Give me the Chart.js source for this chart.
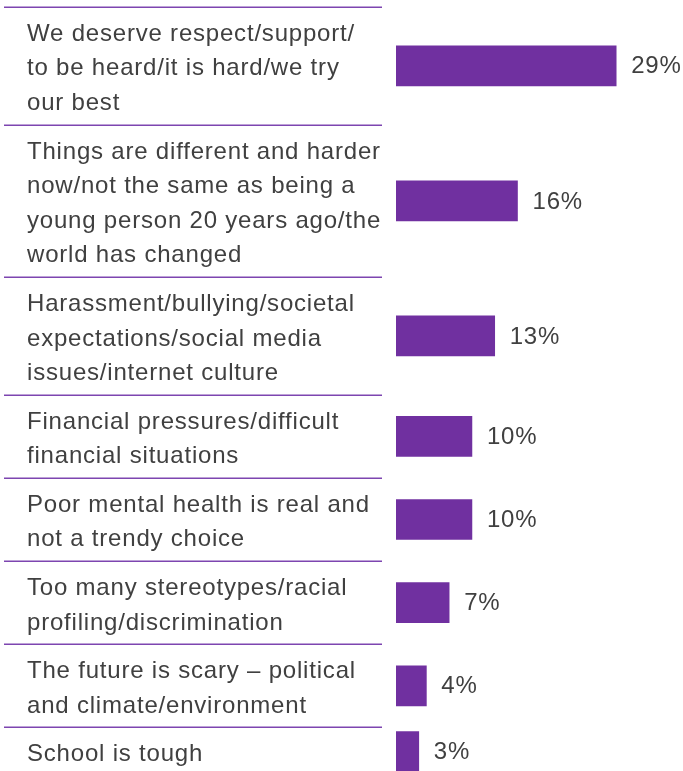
<!DOCTYPE html>
<html>
<head>
<meta charset="utf-8">
<script src="https://cdn.jsdelivr.net/npm/chart.js@4/dist/chart.umd.min.js"></script>
<style>
  html, body { margin: 0; padding: 0; background: #fff; overflow: hidden; }
  #wrap { width: 683px; height: 776px; position: relative; }
</style>
</head>
<body>
<div id="wrap"><canvas id="myChart"></canvas></div>
<script>
// reasons given, one label line per array entry
var reasons = [
    ['We deserve respect/support/', 'to be heard/it is hard/we try', 'our best'],
    ['Things are different and harder', 'now/not the same as being a', 'young person 20 years ago/the', 'world has changed'],
    ['Harassment/bullying/societal', 'expectations/social media', 'issues/internet culture'],
    ['Financial pressures/difficult', 'financial situations'],
    ['Poor mental health is real and', 'not a trendy choice'],
    ['Too many stereotypes/racial', 'profiling/discrimination'],
    ['The future is scary \u2013 political', 'and climate/environment'],
    ['School is tough']
];
var percentages = [29, 16, 13, 10, 10, 7, 4, 3];

var purple = '#7030a0';
var textColor = '#404040';
var fontFamily = "'Liberation Sans', Arial, Helvetica, sans-serif";
var fontSize = 24;
var spacing = '0.8px';
var lineStep = 34.5;      // px per text line
var rowPad = 14 / 34.5;   // extra space per row, in line units

// each row is as tall as its label, so the y axis runs in "lines"
var rowStart = [], rowMid = [], pos = 0;
reasons.forEach(function (r) {
    var h = r.length + rowPad;
    rowStart.push(pos);
    rowMid.push(pos + h / 2);
    pos += h;
});
var rowEnd = pos;

var points = percentages.map(function (v, i) { return { x: v, y: rowMid[i] }; });

var letterSpacing = {
    id: 'letterSpacing',
    beforeInit: function (chart) { chart.ctx.letterSpacing = spacing; },
    beforeDraw: function (chart) { chart.ctx.letterSpacing = spacing; }
};

// purple rules between the rows, under the labels only
var dividers = {
    id: 'dividers',
    beforeDatasetsDraw: function (chart) {
        var ctx = chart.ctx, y = chart.scales.y;
        ctx.save();
        ctx.strokeStyle = '#7d45b0';
        ctx.lineWidth = 1.5;
        rowStart.forEach(function (v) {
            var py = Math.round(y.getPixelForValue(v)) + 0.25;
            ctx.beginPath();
            ctx.moveTo(4, py);
            ctx.lineTo(chart.chartArea.left - 14, py);
            ctx.stroke();
        });
        ctx.restore();
    }
};

var valueLabels = {
    id: 'valueLabels',
    afterDatasetsDraw: function (chart) {
        var ctx = chart.ctx;
        ctx.save();
        ctx.font = fontSize + 'px ' + fontFamily;
        ctx.fillStyle = textColor;
        ctx.textAlign = 'left';
        ctx.textBaseline = 'middle';
        chart.getDatasetMeta(0).data.forEach(function (bar, i) {
            ctx.fillText(percentages[i] + '%', bar.x + 15, bar.y + 1);
        });
        ctx.restore();
    }
};

var ctx = document.getElementById('myChart').getContext('2d');
var myChart = new Chart(ctx, {
    type: 'bar',
    data: {
        datasets: [{
            data: points,
            backgroundColor: purple,
            borderWidth: 0,
            barThickness: 40
        }]
    },
    options: {
        indexAxis: 'y',
        responsive: true,
        maintainAspectRatio: false,
        animation: false,
        layout: { autoPadding: false, padding: { top: 7, left: 27, right: 0, bottom: 0 } },
        plugins: {
            legend: { display: false },
            tooltip: { enabled: false }
        },
        scales: {
            x: {
                type: 'linear',
                display: false,
                min: 0,
                max: 37.8
            },
            y: {
                type: 'linear',
                reverse: true,
                offset: false,
                min: 0,
                max: rowEnd,
                grid: { display: false },
                border: { display: false },
                afterBuildTicks: function (scale) {
                    scale.ticks = rowMid.map(function (v) { return { value: v }; });
                },
                afterFit: function (scale) {
                    scale.width = 396 - 27;
                    scale.paddingTop = 0;
                    scale.paddingBottom = 0;
                },
                ticks: {
                    autoSkip: false,
                    crossAlign: 'far',
                    labelOffset: 3,
                    color: textColor,
                    font: { family: fontFamily, size: fontSize, lineHeight: lineStep / fontSize },
                    callback: function (value, index) { return reasons[index]; }
                }
            }
        }
    },
    plugins: [letterSpacing, dividers, valueLabels]
});
</script>
</body>
</html>
